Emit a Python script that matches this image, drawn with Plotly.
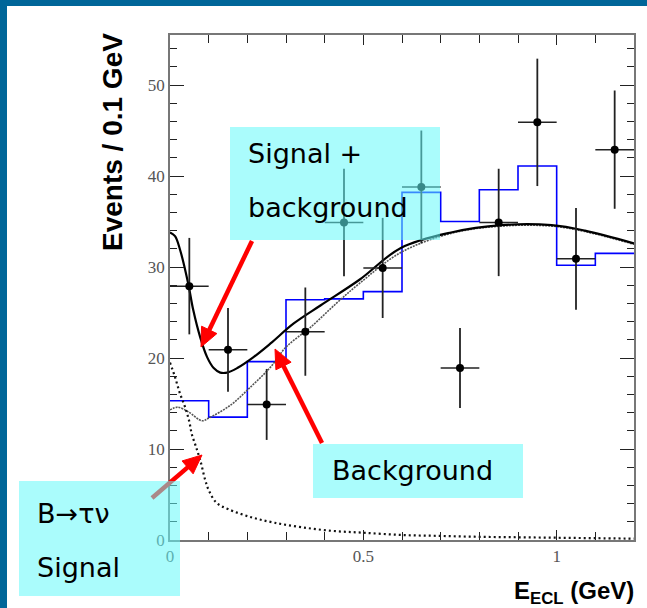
import math
import plotly.graph_objects as go

# ---------------- data ----------------
bin_centers = [0.05, 0.15, 0.25, 0.35, 0.45, 0.55, 0.65, 0.75, 0.85, 0.95, 1.05, 1.15]
data_counts = [27.9, 20.9, 14.9, 22.9, 34.9, 29.9, 38.8, 18.9, 34.9, 45.9, 30.9, 42.9]
data_errors = [5.3, 4.6, 3.9, 4.85, 5.9, 5.5, 6.2, 4.4, 5.9, 7.0, 5.6, 6.5]
bin_half_widths = [0.05] * 12

mc_edges = [0.0, 0.1, 0.2, 0.3, 0.4, 0.5, 0.6, 0.7, 0.8, 0.9, 1.0, 1.1, 1.2]
mc_counts = [15.3, 13.5, 19.6, 26.4, 26.5, 27.3, 38.2, 35.0, 38.5, 41.1, 30.2, 31.5]

total_x = [0.0, 0.013, 0.026, 0.047, 0.06, 0.078, 0.096, 0.113, 0.13, 0.148, 0.174,
           0.216, 0.26, 0.32, 0.39, 0.49, 0.597, 0.727, 0.857, 0.987, 1.073, 1.2]
total_y = [33.8, 33.4, 31.9, 28.2, 25.3, 22.3, 20.1, 18.9, 18.4, 18.4, 18.9,
           20.1, 21.6, 23.8, 25.8, 28.6, 32.1, 33.8, 34.6, 34.6, 34.0, 32.6]

bkg_x = [0.0, 0.02, 0.047, 0.083, 0.10, 0.156, 0.208, 0.26, 0.30, 0.364, 0.43,
         0.49, 0.597, 0.727, 0.857, 0.987, 1.073, 1.2]
bkg_y = [14.3, 14.6, 14.1, 13.1, 13.4, 14.8, 16.8, 19.0, 21.2, 23.4, 26.0,
         28.2, 31.6, 33.7, 34.5, 34.5, 33.9, 32.5]

sig_x = [0.0, 0.013, 0.025, 0.039, 0.05, 0.056, 0.066, 0.078, 0.091, 0.1, 0.12, 0.15,
         0.21, 0.27, 0.34, 0.42, 0.5, 0.6, 0.7, 0.8, 0.9, 1.0, 1.1, 1.2]
sig_y = [19.5, 17.9, 16.2, 14.6, 13.0, 11.7, 10.4, 8.8, 6.6, 5.5, 4.1, 3.4,
         2.5, 1.9, 1.4, 1.0, 0.8, 0.55, 0.45, 0.35, 0.3, 0.25, 0.2, 0.15]

x_range = [0, 1.2]
y_range = [0, 55.5]

# ---------------- geometry helpers (pixel -> paper) ----------------
W, H = 647, 608
L, R, T, B = 170, 634, 35, 540


def px(x):
    return (x - L) / (R - L)


def py(y):
    return (B - y) / (B - T)


fig = go.Figure()

# MC histogram (blue steps)
fig.add_trace(go.Scatter(
    x=mc_edges, y=mc_counts + [mc_counts[-1]], mode="lines",
    line=dict(color="#0000ff", width=1.6, shape="hv"), hoverinfo="skip"))

# background (fine dotted grey)
fig.add_trace(go.Scatter(
    x=bkg_x, y=bkg_y, mode="lines",
    line=dict(color="#555555", width=1.6, dash="2px,1px", shape="spline", smoothing=1.0)))

# signal (dotted black)
fig.add_trace(go.Scatter(
    x=sig_x, y=sig_y, mode="lines",
    line=dict(color="#111111", width=2.2, dash="2px,3px", shape="spline", smoothing=1.0)))

# signal + background (solid)
fig.add_trace(go.Scatter(
    x=total_x, y=total_y, mode="lines",
    line=dict(color="#000000", width=2.2, shape="spline", smoothing=1.0)))

# data points
fig.add_trace(go.Scatter(
    x=bin_centers, y=data_counts, mode="markers",
    marker=dict(color="black", size=8),
    error_x=dict(type="data", array=bin_half_widths, color="#222222", thickness=1.5, width=0),
    error_y=dict(type="data", array=data_errors, color="#222222", thickness=1.8, width=0)))

shapes = []

# dark blue page border
border = "#006699"
shapes.append(dict(type="rect", xref="paper", yref="paper", x0=px(0), x1=px(7),
                   y0=py(H), y1=py(0), fillcolor=border, line=dict(width=0), layer="above"))
shapes.append(dict(type="rect", xref="paper", yref="paper", x0=px(0), x1=px(W),
                   y0=py(6), y1=py(0), fillcolor=border, line=dict(width=0), layer="above"))


def arrow(x0, y0, x1, y1, color="#ff0000", width=4.5, head_len=19, head_w=17):
    dx, dy = x1 - x0, y1 - y0
    n = math.hypot(dx, dy)
    ux, uy = dx / n, dy / n
    bx, by = x1 - ux * head_len, y1 - uy * head_len
    nx, ny = -uy, ux
    out = [dict(type="line", xref="paper", yref="paper", x0=px(x0), y0=py(y0),
                x1=px(bx + ux * 2), y1=py(by + uy * 2), line=dict(color=color, width=width), layer="above")]
    p1 = (bx + nx * head_w / 2, by + ny * head_w / 2)
    p2 = (bx - nx * head_w / 2, by - ny * head_w / 2)
    path = "M {} {} L {} {} L {} {} Z".format(px(x1), py(y1), px(p1[0]), py(p1[1]), px(p2[0]), py(p2[1]))
    out.append(dict(type="path", xref="paper", yref="paper", path=path,
                    fillcolor=color, line=dict(color=color, width=1), layer="above"))
    return out


shapes += arrow(252, 241, 201, 347)
shapes += arrow(322, 443, 275, 349)
shapes += arrow(152, 498, 202, 455)

# translucent cyan label boxes (drawn over the plot)
for (x0, y0, x1, y1) in [(230, 127, 440, 240), (313, 444, 523, 498), (19, 481, 180, 596)]:
    shapes.append(dict(type="rect", xref="paper", yref="paper",
                       x0=px(x0), x1=px(x1), y0=py(y1), y1=py(y0),
                       fillcolor="rgb(100,250,250)", opacity=0.55, line=dict(width=0), layer="above"))

annotations = []
label_font = dict(family="DejaVu Sans", size=27, color="black")
for text, x, y in [("Signal +", 246, 153), ("background", 246, 208), ("Background", 330, 470),
                   ("B\u2192\u03c4\u03bd", 35, 513), ("Signal", 35, 567)]:
    annotations.append(dict(text=text, x=px(x), y=py(y), xref="paper", yref="paper",
                            xanchor="left", yanchor="middle", showarrow=False, font=label_font))

annotations.append(dict(text="<b>Events / 0.1 GeV</b>", x=px(112), y=py(142), xref="paper", yref="paper",
                        textangle=-90, xanchor="center", yanchor="middle", showarrow=False,
                        font=dict(family="Liberation Sans", size=28, color="black")))
annotations.append(dict(text="<b>E<sub>ECL</sub> (GeV)</b>", x=px(636), y=py(592), xref="paper", yref="paper",
                        xanchor="right", yanchor="middle", showarrow=False,
                        font=dict(family="Liberation Sans", size=24, color="black")))

tick_font = dict(family="Liberation Serif", size=17, color="#555555")

fig.update_layout(
    width=W, height=H, autosize=False,
    margin=dict(l=L, r=W - R, t=T, b=H - B, pad=0),
    paper_bgcolor="white", plot_bgcolor="white",
    showlegend=False,
    shapes=shapes, annotations=annotations,
    xaxis=dict(range=x_range, tickvals=[0, 0.5, 1], ticktext=["0", "0.5", "1"],
               ticks="inside", ticklen=10, tickwidth=1.3, tickcolor="#222222",
               showline=True, linecolor="#777777", linewidth=1.5, mirror="ticks",
               showgrid=False, zeroline=False, tickfont=tick_font,
               minor=dict(dtick=0.1, ticklen=8, tickwidth=1.3, tickcolor="#222222", ticks="inside", showgrid=False)),
    yaxis=dict(range=y_range, tickvals=[0, 10, 20, 30, 40, 50],
               ticks="inside", ticklen=14, tickwidth=1.3, tickcolor="#222222",
               showline=True, linecolor="#777777", linewidth=1.5, mirror="ticks",
               showgrid=False, zeroline=False, tickfont=tick_font,
               minor=dict(dtick=2, ticklen=7, tickwidth=1.3, tickcolor="#222222", ticks="inside", showgrid=False)),
)

fig.write_html("out.html")
